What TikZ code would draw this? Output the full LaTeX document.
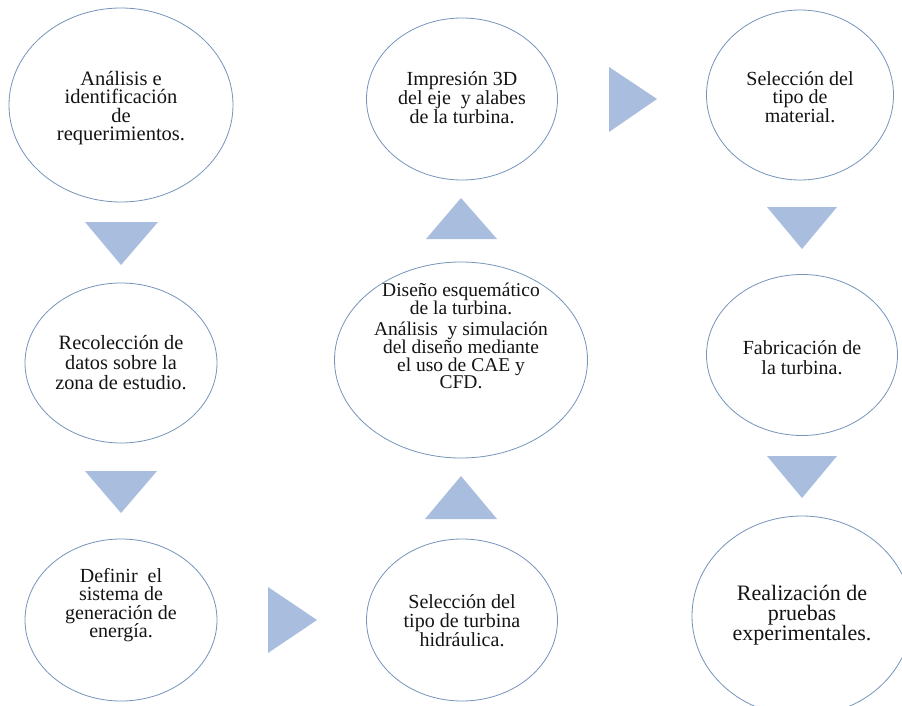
\documentclass[tikz,border=0pt]{standalone}
\usepackage{fontspec}
\setmainfont{Liberation Serif}
\usetikzlibrary{shapes.geometric}
\definecolor{ringcol}{RGB}{118,148,186}
\definecolor{arrowcol}{RGB}{169,190,222}
\tikzset{
  stage/.style={ellipse, draw=ringcol, line width=0.8pt, fill=white, inner sep=0pt},
  stagetext/.style={align=center, text=black!92, inner sep=0pt},
  pointer/.style={fill=arrowcol, draw=none}
}
\newcommand{\fs}[2]{\fontsize{#1}{#2}\selectfont}
\begin{document}
\begin{tikzpicture}[x=1pt,y=-1pt]
\useasboundingbox (0,0) rectangle (902,706);
\fill[white] (0,0) rectangle (902,706);
\clip (0,0) rectangle (902,706);

% ellipses
\node[stage, minimum width=224pt, minimum height=194pt] (e1) at (121,105) {};
\node[stage, minimum width=192pt, minimum height=160pt] (e2) at (121,363) {};
\node[stage, minimum width=192pt, minimum height=162pt] (e3) at (121,620) {};
\node[stage, minimum width=191pt, minimum height=162pt] (e4) at (462,620) {};
\node[stage, minimum width=253pt, minimum height=196pt] (e5) at (461,360) {};
\node[stage, minimum width=191pt, minimum height=162pt] (e6) at (462,99) {};
\node[stage, minimum width=187pt, minimum height=170pt] (e7) at (800,95) {};
\node[stage, minimum width=191pt, minimum height=161pt] (e8) at (802,355) {};
\node[stage, minimum width=220pt, minimum height=200pt] (e9) at (802,616) {};

% texts (yshift: positive = up)
\node[stagetext, font=\fs{20.5}{18.5}, yshift=-3pt] (x1) at (e1) {Análisis e\\identificación\\de\\requerimientos.};
\node[stagetext, font=\fs{20.3}{20}] (x2) at (e2) {Recolección de\\datos sobre la\\zona de estudio.};
\node[stagetext, font=\fs{20}{18.5}, yshift=15pt] (x3) at (e3) {Definir\ \ el\\sistema de\\generación de\\energía.};
\node[stagetext, font=\fs{20}{19}, yshift=-1pt] (x4) at (e4) {Selección del\\tipo de turbina\\hidráulica.};
\node[stagetext, font=\fs{19.5}{17.8}, yshift=24pt] (x5) at (e5) {Diseño esquemático\\de la turbina.\\[3.5pt]Análisis\ \ y simulación\\del diseño mediante\\el uso de CAE y\\CFD.};
\node[stagetext, font=\fs{20}{18}, yshift=1pt] (x6) at (e6) {Impresión 3D\\del eje\ \ y alabes\\de la turbina.};
\node[stagetext, font=\fs{20}{18.5}, yshift=-2pt] (x7) at (e7) {Selección del\\tipo de\\material.};
\node[stagetext, font=\fs{20}{20}, yshift=-3pt] (x8) at (e8) {Fabricación de\\la turbina.};
\node[stagetext, font=\fs{22}{20}, yshift=1pt] (x9) at (e9) {Realización de\\pruebas\\experimentales.};

% pointer triangles
\fill[pointer] (85,222) -- (158,222) -- (121,265) -- cycle;
\fill[pointer] (85,471) -- (157,471) -- (121,513) -- cycle;
\fill[pointer] (268,587) -- (268,653) -- (317,620) -- cycle;
\fill[pointer] (425,519) -- (497,519) -- (461,476) -- cycle;
\fill[pointer] (426,239) -- (497,239) -- (461,198) -- cycle;
\fill[pointer] (609,67) -- (609,132) -- (657,99) -- cycle;
\fill[pointer] (767,207) -- (837,207) -- (802,249) -- cycle;
\fill[pointer] (767,456) -- (837,456) -- (802,498) -- cycle;
\end{tikzpicture}
\end{document}
